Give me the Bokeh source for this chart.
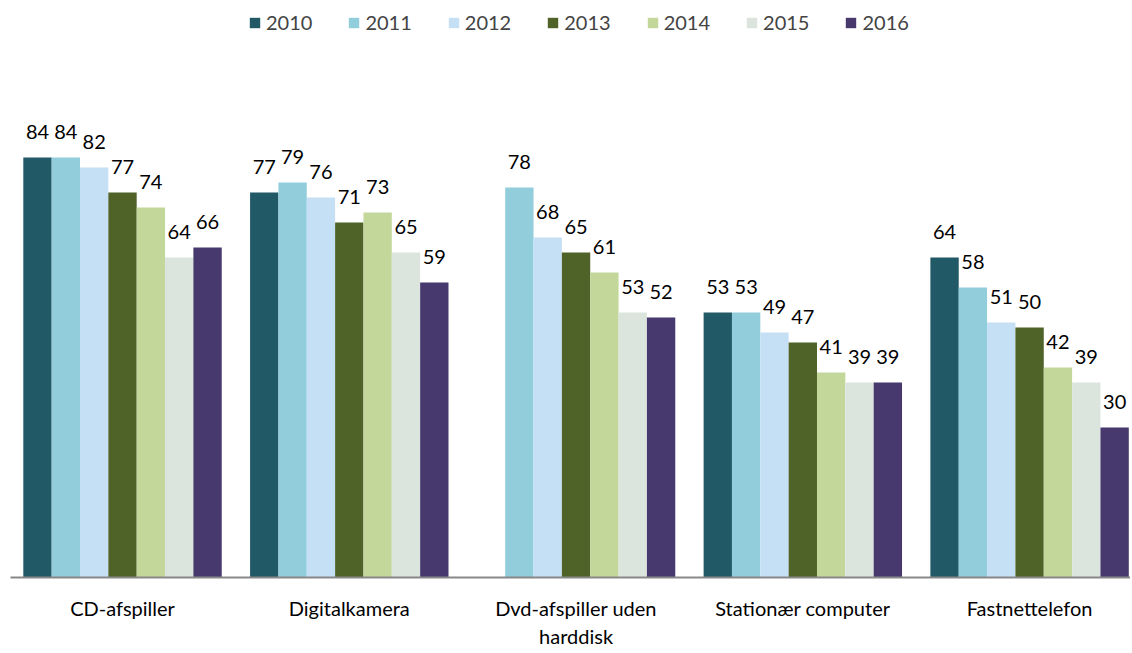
from bokeh.plotting import figure
from bokeh.models import ColumnDataSource, Legend, LegendItem, FixedTicker
from bokeh.transform import dodge
from bokeh.core.properties import value
from bokeh.embed import file_html
from bokeh.resources import INLINE
import math

categories = ["CD-afspiller", "Digitalkamera", "Dvd-afspiller uden\nharddisk", "Stationær computer", "Fastnettelefon"]
years = ["2010", "2011", "2012", "2013", "2014", "2015", "2016"]
v2010 = [84, 77, float("nan"), 53, 64]
v2011 = [84, 79, 78, 53, 58]
v2012 = [82, 76, 68, 49, 51]
v2013 = [77, 71, 65, 47, 50]
v2014 = [74, 73, 61, 41, 42]
v2015 = [64, 65, 53, 39, 39]
v2016 = [66, 59, 52, 39, 30]
series = [v2010, v2011, v2012, v2013, v2014, v2015, v2016]
colors = ["#215967", "#92CDDC", "#C5DFF4", "#4F6228", "#C4D79B", "#DBE5DE", "#47386E"]

FONT = "Lato"
bw = 0.125
xs = list(range(len(categories)))

p = figure(width=1130, height=651, output_backend="svg", toolbar_location=None,
           x_range=(-0.494, 4.445), y_range=(0, 115.4),
           min_border_left=10, min_border_right=0, min_border_top=0, min_border_bottom=60)
p.outline_line_color = None
p.xgrid.visible = False
p.ygrid.visible = False
p.yaxis.visible = False

items = []
for j, (yr, vals, col) in enumerate(zip(years, series, colors)):
    labels = ["" if (isinstance(v, float) and math.isnan(v)) else str(v) for v in vals]
    src = ColumnDataSource(dict(x=xs, top=vals, lab=labels))
    off = (j - 3) * bw
    r = p.vbar(x=dodge("x", off), top="top", width=bw, source=src,
               fill_color=col, line_color=None)
    p.text(x=dodge("x", off), y="top", text="lab", source=src,
           text_font=value(FONT), text_font_size="20px", text_color="#000000",
           text_align="center", text_baseline="middle", y_offset=-26)
    items.append(LegendItem(label=yr, renderers=[r]))

p.xaxis.ticker = FixedTicker(ticks=xs)
p.xaxis.major_label_overrides = {i: c for i, c in enumerate(categories)}
p.xaxis.major_tick_line_color = None
p.xaxis.minor_tick_line_color = None
p.xaxis.axis_line_color = "#888888"
p.xaxis.axis_line_width = 2
p.xaxis.major_label_text_font = FONT
p.xaxis.major_label_text_font_size = "20px"
p.xaxis.major_label_text_color = "#000000"
p.xaxis.major_label_standoff = 12

legend = Legend(items=items, orientation="horizontal", location=(238, 543),
                label_text_font=FONT, label_text_font_size="20px",
                glyph_width=13, glyph_height=13, spacing=35, label_standoff=5,
                border_line_color=None, background_fill_alpha=0, padding=0, margin=0)
p.add_layout(legend, "center")

open("out.html", "w").write(file_html(p, INLINE))
